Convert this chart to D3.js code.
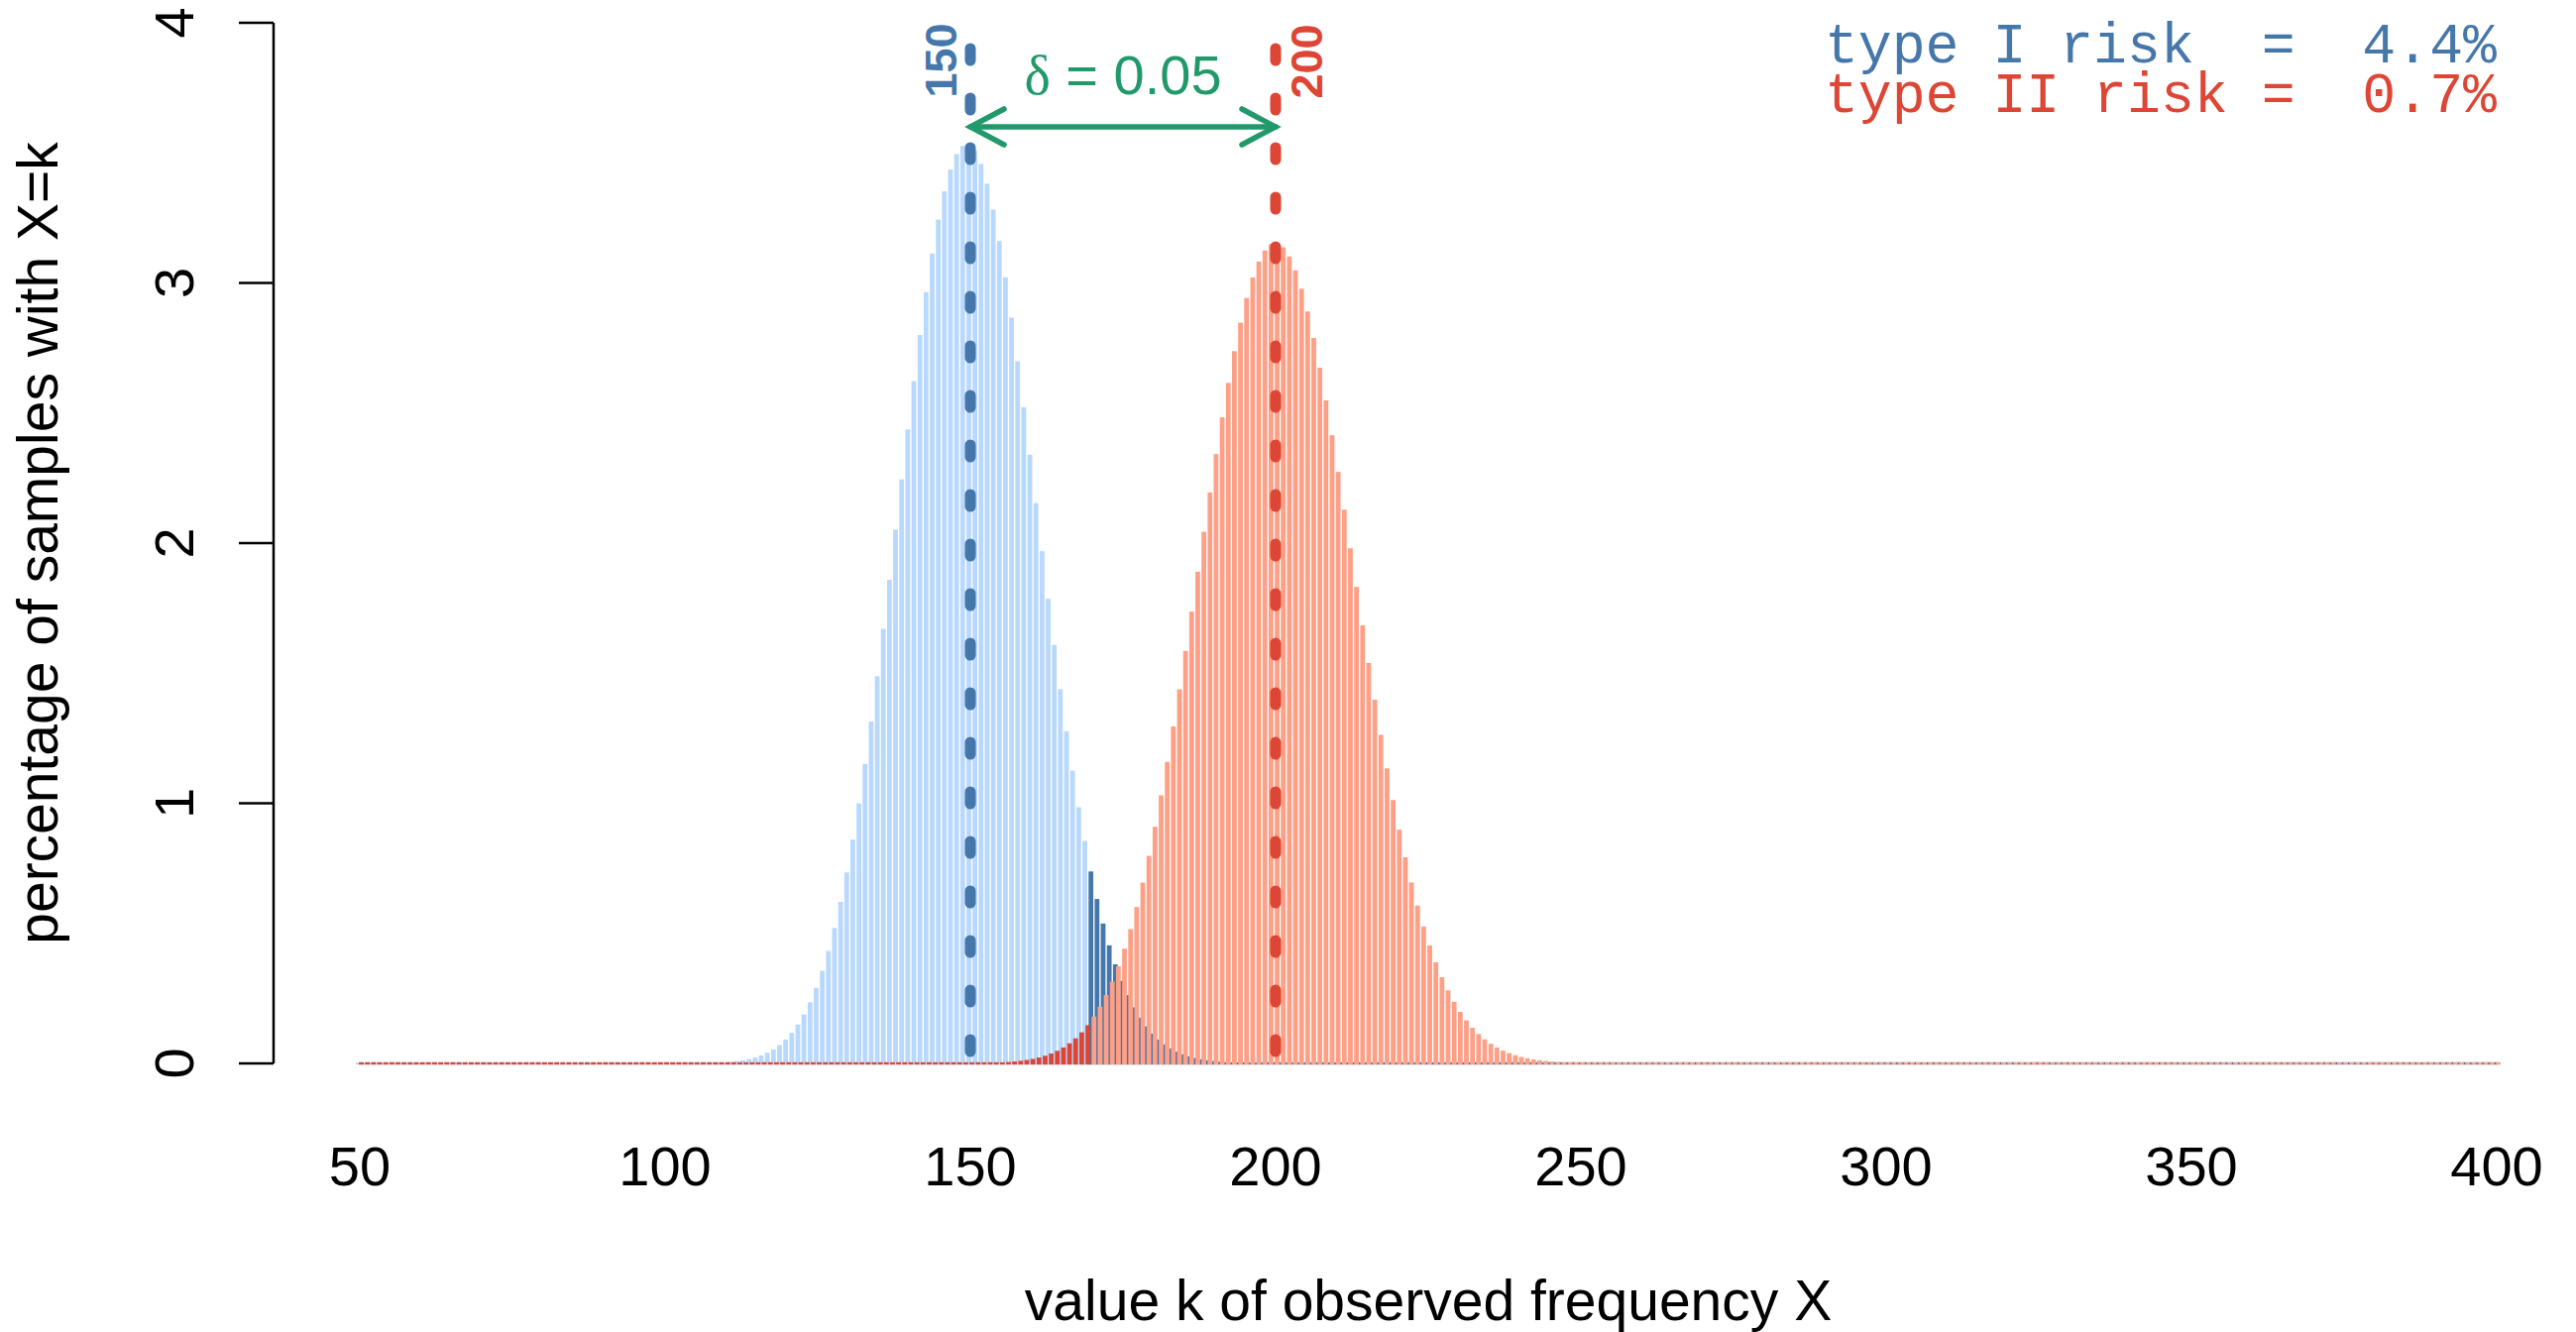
<!DOCTYPE html>
<html><head><meta charset="utf-8">
<script src="https://cdn.jsdelivr.net/npm/d3@7"></script>
<style>html,body{margin:0;padding:0;background:#fff;overflow:hidden;} svg{display:block;}</style>
</head><body>
<script>
// ---------------- DATA ----------------
const kValues = d3.range(50, 401);            // categories k = 50 .. 400
const xTickValues = [50, 100, 150, 200, 250, 300, 350, 400];
const yTickValues = [0, 1, 2, 3, 4];

// percentage of samples with X = k (null hypothesis, centred on 150); first entry is k = 103
const blueStartK = 103;
const bluePct = [
  0.0003, 0.0004, 0.0007, 0.0010, 0.0015, 0.0022, 0.0031, 0.0044, 0.0063, 0.0088,
  0.0122, 0.0168, 0.0228, 0.0307, 0.0409, 0.0540, 0.0707, 0.0916, 0.1176, 0.1495,
  0.1883, 0.2350, 0.2906, 0.3561, 0.4325, 0.5206, 0.6210, 0.7342, 0.8605, 0.9997,
  1.1513, 1.3146, 1.4882, 1.6704, 1.8590, 2.0516, 2.2452, 2.4367, 2.6227, 2.7998,
  2.9645, 3.1135, 3.2436, 3.3521, 3.4366, 3.4953, 3.5270, 3.5311, 3.5077, 3.4575,
  3.3817, 3.2822, 3.1614, 3.0219, 2.8668, 2.6992, 2.5225, 2.3398, 2.1543, 1.9689,
  1.7863, 1.6088, 1.4385, 1.2769, 1.1253, 0.9846, 0.8554, 0.7379, 0.6321, 0.5376,
  0.4541, 0.3808, 0.3172, 0.2624, 0.2156, 0.1759, 0.1426, 0.1147, 0.0917, 0.0728,
  0.0575, 0.0450, 0.0350, 0.0271, 0.0208, 0.0159, 0.0120, 0.0091, 0.0068, 0.0050,
  0.0037, 0.0027, 0.0020, 0.0014, 0.0010, 0.0007, 0.0005, 0.0004, 0.0003
];

// percentage of samples with X = k (alternative, centred on 200); first entry is k = 147
const redStartK = 147;
const redPct = [
  0.0003, 0.0004, 0.0006, 0.0008, 0.0011, 0.0016, 0.0022, 0.0030, 0.0041, 0.0056,
  0.0075, 0.0101, 0.0133, 0.0175, 0.0228, 0.0296, 0.0380, 0.0485, 0.0614, 0.0772,
  0.0964, 0.1195, 0.1470, 0.1797, 0.2180, 0.2627, 0.3144, 0.3735, 0.4408, 0.5165,
  0.6012, 0.6949, 0.7978, 0.9097, 1.0303, 1.1591, 1.2953, 1.4379, 1.5856, 1.7369,
  1.8902, 2.0435, 2.1949, 2.3422, 2.4832, 2.6158, 2.7378, 2.8472, 2.9421, 3.0209,
  3.0822, 3.1250, 3.1486, 3.1525, 3.1368, 3.1019, 3.0484, 2.9774, 2.8903, 2.7886,
  2.6741, 2.5488, 2.4147, 2.2738, 2.1283, 1.9802, 1.8315, 1.6839, 1.5390, 1.3983,
  1.2630, 1.1341, 1.0124, 0.8985, 0.7928, 0.6955, 0.6066, 0.5260, 0.4536, 0.3888,
  0.3315, 0.2809, 0.2368, 0.1984, 0.1654, 0.1370, 0.1129, 0.0925, 0.0754, 0.0611,
  0.0492, 0.0395, 0.0315, 0.0249, 0.0197, 0.0154, 0.0120, 0.0093, 0.0072, 0.0055,
  0.0042, 0.0032, 0.0024, 0.0018, 0.0014, 0.0010, 0.0007, 0.0005, 0.0004, 0.0003
];

const criticalK = 170;        // rejection region starts here
const nullCentre = 150;
const altCentre = 200;
const deltaText = "0.05";
const riskLabels = ["type I risk  =  4.4%", "type II risk =  0.7%"];
const xAxisTitle = "value k of observed frequency X";
const yAxisTitle = "percentage of samples with X=k";

// ---------------- STYLE ----------------
const C = {
  blueLight: "#b9d8fd", blueDark: "#4677aa",
  redLight: "#fe9f86", redDark: "#dd4535",
  green: "#21996a"
};
const SANS = "'Liberation Sans', Arial, Helvetica, sans-serif";

const W = 2599, H = 1344;
const svg = d3.select("body").append("svg").attr("width", W).attr("height", H)
  .style("background", "#fff");

const x = d3.scaleLinear().domain([50, 400]).range([363, 2519]);
const y = d3.scaleLinear().domain([0, 4]).range([1073, 23]);
const y0 = y(0);

const valueAt = (arr, start, k) => (k >= start && k < start + arr.length) ? arr[k - start] : 0;
const barW = 4.8;

function drawBars(arr, start, shift, lightC, darkC, darkWhen) {
  svg.append("g").selectAll("rect").data(kValues).join("rect")
    .attr("x", k => x(k + shift) - barW / 2)
    .attr("width", barW)
    .attr("y", k => Math.min(y(valueAt(arr, start, k)), y0 - 1.2))
    .attr("height", k => y0 + 1.2 - Math.min(y(valueAt(arr, start, k)), y0 - 1.2))
    .attr("fill", k => darkWhen(k) ? darkC : lightC);
}
drawBars(bluePct, blueStartK, -0.25, C.blueLight, C.blueDark, k => k >= criticalK);
drawBars(redPct, redStartK, 0.25, C.redLight, C.redDark, k => k < criticalK);

// dashed reference lines
[[nullCentre, C.blueDark], [altCentre, C.redDark]].forEach(([v, col]) => {
  svg.append("line")
    .attr("x1", x(v)).attr("x2", x(v))
    .attr("y1", 49).attr("y2", y0)
    .attr("stroke", col).attr("stroke-width", 11)
    .attr("stroke-linecap", "round").attr("stroke-dasharray", "12 38");
});

// value labels on the dashed lines
svg.append("text").text(String(nullCentre))
  .attr("transform", `translate(${x(nullCentre) - 14},61) rotate(-90)`)
  .attr("text-anchor", "middle").attr("font-family", SANS).attr("font-weight", "bold")
  .attr("font-size", 45).attr("fill", C.blueDark);
svg.append("text").text(String(altCentre))
  .attr("transform", `translate(${x(altCentre) + 47},62) rotate(-90)`)
  .attr("text-anchor", "middle").attr("font-family", SANS).attr("font-weight", "bold")
  .attr("font-size", 45).attr("fill", C.redDark);

// double arrow
const ay = 128, ah = 34, av = 18;
const ag = svg.append("g").attr("stroke", C.green).attr("stroke-width", 5.5)
  .attr("stroke-linecap", "round").attr("fill", "none");
ag.append("line").attr("x1", x(nullCentre)).attr("x2", x(altCentre)).attr("y1", ay).attr("y2", ay);
ag.append("path").attr("d", `M${x(nullCentre) + ah},${ay - av} L${x(nullCentre)},${ay} L${x(nullCentre) + ah},${ay + av}`);
ag.append("path").attr("d", `M${x(altCentre) - ah},${ay - av} L${x(altCentre)},${ay} L${x(altCentre) - ah},${ay + av}`);

const dt = svg.append("text").attr("x", (x(nullCentre) + x(altCentre)) / 2).attr("y", 95)
  .attr("text-anchor", "middle").attr("font-size", 56).attr("fill", C.green)
  .attr("font-family", SANS).attr("xml:space", "preserve").style("white-space", "pre");
dt.append("tspan").attr("font-family", "'Liberation Serif', 'DejaVu Serif', serif").text("δ");
dt.append("tspan").text(" = " + deltaText);

// risk labels
riskLabels.forEach((t, i) => {
  svg.append("text").text(t)
    .attr("x", 2519).attr("y", 63 + i * 50)
    .attr("text-anchor", "end")
    .attr("font-family", "'Liberation Mono', 'Courier New', monospace")
    .attr("font-size", 56.5)
    .attr("fill", i === 0 ? C.blueDark : C.redDark)
    .style("white-space", "pre");
});

// y axis
const ya = svg.append("g").attr("stroke", "#000").attr("stroke-width", 2.5);
ya.append("line").attr("x1", 276).attr("x2", 276).attr("y1", y(4)).attr("y2", y(0));
ya.selectAll("line.t").data(yTickValues).join("line").attr("class", "t")
  .attr("x1", 241).attr("x2", 276).attr("y1", d => y(d)).attr("y2", d => y(d));
svg.append("g").selectAll("text").data(yTickValues).join("text")
  .attr("transform", d => `translate(195,${y(d)}) rotate(-90)`)
  .attr("text-anchor", "middle").attr("font-family", SANS).attr("font-size", 56)
  .text(d => d);

// x tick labels (no axis line)
svg.append("g").selectAll("text").data(xTickValues).join("text")
  .attr("x", d => x(d)).attr("y", 1196)
  .attr("text-anchor", "middle").attr("font-family", SANS).attr("font-size", 56)
  .text(d => d);

// axis titles
svg.append("text").text(xAxisTitle)
  .attr("x", (x(50) + x(400)) / 2).attr("y", 1332)
  .attr("text-anchor", "middle").attr("font-family", SANS).attr("font-size", 57);
svg.append("text").text(yAxisTitle)
  .attr("transform", `translate(58,${(y(0) + y(4)) / 2}) rotate(-90)`)
  .attr("text-anchor", "middle").attr("font-family", SANS).attr("font-size", 57);
</script>
</body></html>
